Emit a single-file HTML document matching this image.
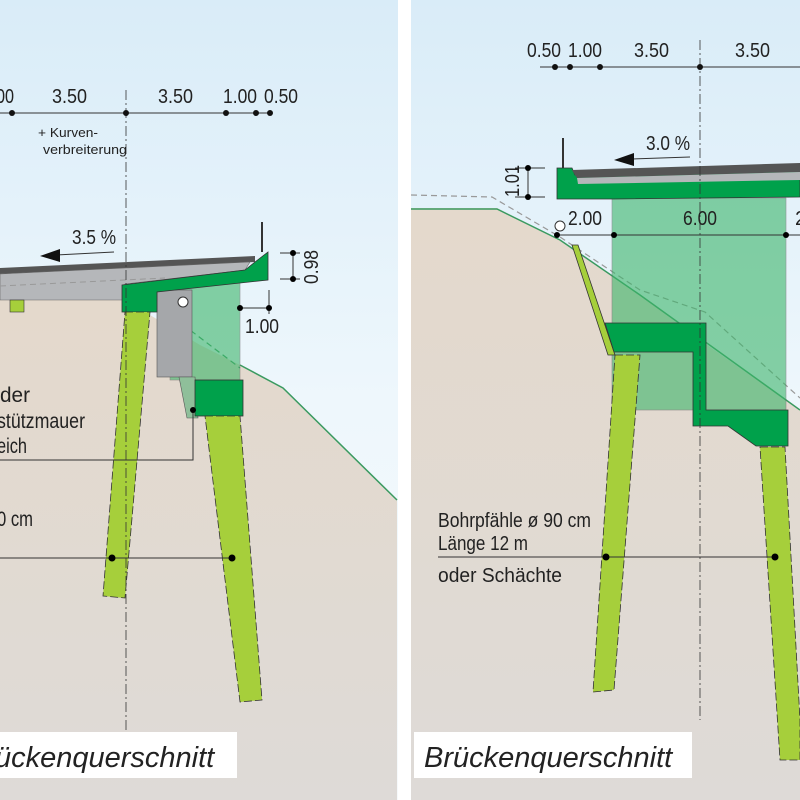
<!DOCTYPE html>
<html><head><meta charset="utf-8"><style>
body{margin:0;width:800px;height:800px;overflow:hidden;background:#fff}
svg{display:block}
text{font-family:"Liberation Sans",sans-serif;fill:#222}
</style></head><body>
<svg width="800" height="800" viewBox="0 0 800 800">
<defs>
<linearGradient id="sky" x1="0" y1="0" x2="0" y2="1"><stop offset="0" stop-color="#d9ecf8"/><stop offset="0.5" stop-color="#eef7fc"/><stop offset="1" stop-color="#f6f9fb"/></linearGradient>
<linearGradient id="gr" x1="0" y1="0" x2="0" y2="1"><stop offset="0" stop-color="#e4d9cc"/><stop offset="1" stop-color="#dedad7"/></linearGradient>
</defs>
<rect x="0" y="0" width="398" height="800" fill="url(#sky)"/>
<rect x="411" y="0" width="389" height="800" fill="url(#sky)"/>
<polygon points="0,300 125,300 200,345 240,365 283,388 397,500 397,800 0,800" fill="url(#gr)"/>
<polyline points="240,365 283,388 397,500" fill="none" stroke="#3a9a60" stroke-width="1.5"/>
<polyline points="165,300 190,330 240,368" fill="none" stroke="#3a9a60" stroke-width="1.2" stroke-dasharray="6,4"/>
<polygon points="0,268 255,256 255,262 0,274" fill="#555"/>
<polygon points="0,274 250,262 245,270 125,284 125,300 0,300" fill="#b5b7ba" stroke="#666" stroke-width="0.6"/>
<line x1="0" y1="286" x2="165" y2="278" stroke="#999" stroke-dasharray="6,4"/>
<rect x="170" y="283" width="70" height="97" fill="#3cb56a" opacity="0.6" stroke="#555" stroke-width="0.6"/>
<rect x="157" y="290" width="35" height="87" fill="#a5a7aa" stroke="#555" stroke-width="0.6"/>
<polygon points="179,377 195,377 198,418 187,418" fill="#8fbf9a" stroke="#555" stroke-width="0.6"/>
<polygon points="122,285 245,270 255,262 268,252 268,280 157,292 157,312 122,312" fill="#00a14b" stroke="#333" stroke-width="0.8"/>
<rect x="195" y="380" width="48" height="36" fill="#00a14b" stroke="#333" stroke-width="0.8"/>
<polygon points="125,312 150,312 125,598 103,596" fill="#a6cf3b" stroke="#333" stroke-width="0.8" stroke-dasharray="8,3"/>
<polygon points="205,416 240,416 262,700 240,702" fill="#a6cf3b" stroke="#333" stroke-width="0.8" stroke-dasharray="8,3"/>
<rect x="10" y="300" width="14" height="12" fill="#a6cf3b" stroke="#333" stroke-width="0.6"/>
<circle cx="183" cy="302" r="5" fill="#fff" stroke="#333"/>
<line x1="262" y1="222" x2="262" y2="252" stroke="#333" stroke-width="2"/>
<line x1="126" y1="90" x2="126" y2="730" stroke="#333" stroke-width="0.8" stroke-dasharray="10,3,2,3"/>
<line x1="114" y1="252" x2="56" y2="255" stroke="#333"/><polygon points="40,256 60,249 60,262" fill="#111"/>
<text x="72" y="244" font-size="20" textLength="44" lengthAdjust="spacingAndGlyphs">3.5 %</text>
<line x1="0" y1="113" x2="270" y2="113" stroke="#333"/>
<g fill="#111"><circle cx="12" cy="113" r="3"/><circle cx="126" cy="113" r="3"/><circle cx="226" cy="113" r="3"/><circle cx="256" cy="113" r="3"/><circle cx="270" cy="113" r="3"/></g>
<g font-size="20"><text x="-4" y="103" textLength="18" lengthAdjust="spacingAndGlyphs">00</text><text x="52" y="103" textLength="35" lengthAdjust="spacingAndGlyphs">3.50</text><text x="158" y="103" textLength="35" lengthAdjust="spacingAndGlyphs">3.50</text><text x="223" y="103" textLength="34" lengthAdjust="spacingAndGlyphs">1.00</text><text x="264" y="103" textLength="34" lengthAdjust="spacingAndGlyphs">0.50</text></g>
<text x="38" y="137" font-size="13" textLength="60" lengthAdjust="spacingAndGlyphs">+ Kurven-</text><text x="43" y="154" font-size="13" textLength="84" lengthAdjust="spacingAndGlyphs">verbreiterung</text>
<line x1="280" y1="253" x2="300" y2="253" stroke="#333"/><line x1="280" y1="279" x2="300" y2="279" stroke="#333"/><line x1="293" y1="253" x2="293" y2="279" stroke="#333"/>
<circle cx="293" cy="253" r="3"/><circle cx="293" cy="279" r="3"/>
<text font-size="20" transform="translate(318,284) rotate(-90)" textLength="34" lengthAdjust="spacingAndGlyphs">0.98</text>
<line x1="240" y1="308" x2="269" y2="308" stroke="#333"/><line x1="269" y1="290" x2="269" y2="314" stroke="#333"/>
<circle cx="240" cy="308" r="3"/><circle cx="269" cy="308" r="3"/>
<text x="245" y="333" font-size="20" textLength="34" lengthAdjust="spacingAndGlyphs">1.00</text>
<g font-size="21"><text x="0" y="402" textLength="30" lengthAdjust="spacingAndGlyphs">der</text><text x="-3" y="428" textLength="88" lengthAdjust="spacingAndGlyphs">stützmauer</text><text x="-3" y="453" textLength="30" lengthAdjust="spacingAndGlyphs">eich</text><text x="-3" y="526" textLength="36" lengthAdjust="spacingAndGlyphs">0 cm</text></g>
<polyline points="0,460 193,460 193,410" fill="none" stroke="#333"/><circle cx="193" cy="410" r="3"/>
<line x1="0" y1="558" x2="232" y2="558" stroke="#333"/><circle cx="112" cy="558" r="3.5"/><circle cx="232" cy="558" r="3.5"/>
<rect x="0" y="732" width="237" height="46" fill="#fff"/>
<text x="-5" y="767" font-size="29" font-style="italic">ückenquerschnitt</text>
<polygon points="411,208 497,208 560,240 640,295 700,340 800,410 800,800 411,800" fill="url(#gr)"/>
<polyline points="411,209 497,209 560,240 640,295 800,410" fill="none" stroke="#3a9a60" stroke-width="1.5"/>
<polyline points="411,195 492,197 560,237 640,290 705,312 800,398" fill="none" stroke="#999" stroke-width="1.2" stroke-dasharray="6,4"/>
<rect x="612" y="198" width="174" height="212" fill="#3cb56a" opacity="0.6" stroke="#555" stroke-width="0.6"/>
<polygon points="572,245 578,245 615,355 608,355" fill="#a6cf3b" stroke="#333" stroke-width="0.8"/>
<polygon points="605,323 706,323 706,410 788,410 788,446 756,446 728,426 693,426 693,352 614,352" fill="#00a14b" stroke="#333" stroke-width="0.8"/>
<polygon points="615,355 640,355 614,690 593,692" fill="#a6cf3b" stroke="#333" stroke-width="0.8" stroke-dasharray="8,3"/>
<polygon points="760,447 785,447 800,720 800,760 780,760" fill="#a6cf3b" stroke="#333" stroke-width="0.8" stroke-dasharray="8,3"/>
<polygon points="557,168 572,168 575,175 800,170 800,197 614,199 557,199" fill="#00a14b" stroke="#333" stroke-width="0.8"/>
<polygon points="572,170 800,163 800,172 577,178" fill="#555"/>
<polygon points="577,178 800,172 800,180 578,184" fill="#b5b7ba"/>
<line x1="563" y1="138" x2="563" y2="168" stroke="#333" stroke-width="2"/>
<circle cx="560" cy="226" r="5" fill="#fff" stroke="#333"/>
<line x1="700" y1="40" x2="700" y2="720" stroke="#333" stroke-width="0.8" stroke-dasharray="10,3,2,3"/>
<line x1="690" y1="157" x2="632" y2="159" stroke="#333"/><polygon points="614,160 634,153 634,166" fill="#111"/>
<text x="646" y="150" font-size="20" textLength="44" lengthAdjust="spacingAndGlyphs">3.0 %</text>
<line x1="540" y1="67" x2="800" y2="67" stroke="#333"/>
<g fill="#111"><circle cx="555" cy="67" r="3"/><circle cx="570" cy="67" r="3"/><circle cx="600" cy="67" r="3"/><circle cx="700" cy="67" r="3"/></g>
<g font-size="20"><text x="527" y="57" textLength="34" lengthAdjust="spacingAndGlyphs">0.50</text><text x="568" y="57" textLength="34" lengthAdjust="spacingAndGlyphs">1.00</text><text x="634" y="57" textLength="35" lengthAdjust="spacingAndGlyphs">3.50</text><text x="735" y="57" textLength="35" lengthAdjust="spacingAndGlyphs">3.50</text></g>
<line x1="515" y1="168" x2="545" y2="168" stroke="#333"/><line x1="515" y1="197" x2="545" y2="197" stroke="#333"/><line x1="528" y1="168" x2="528" y2="197" stroke="#333"/>
<circle cx="528" cy="168" r="3"/><circle cx="528" cy="197" r="3"/>
<text font-size="20" transform="translate(519,197) rotate(-90)" textLength="32" lengthAdjust="spacingAndGlyphs">1.01</text>
<line x1="557" y1="235" x2="800" y2="235" stroke="#333"/>
<circle cx="557" cy="235" r="3"/><circle cx="614" cy="235" r="3"/><circle cx="786" cy="235" r="3"/>
<g font-size="20"><text x="568" y="225" textLength="34" lengthAdjust="spacingAndGlyphs">2.00</text><text x="683" y="225" textLength="34" lengthAdjust="spacingAndGlyphs">6.00</text><text x="795" y="225">2</text></g>
<g font-size="20"><text x="438" y="527" textLength="153" lengthAdjust="spacingAndGlyphs">Bohrpfähle ø 90 cm</text><text x="438" y="550" textLength="90" lengthAdjust="spacingAndGlyphs">Länge 12 m</text><text x="438" y="582" textLength="124" lengthAdjust="spacingAndGlyphs">oder Schächte</text></g>
<line x1="438" y1="557" x2="775" y2="557" stroke="#333"/><circle cx="606" cy="557" r="3.5"/><circle cx="775" cy="557" r="3.5"/>
<rect x="414" y="732" width="278" height="46" fill="#fff"/>
<text x="424" y="767" font-size="29" font-style="italic">Brückenquerschnitt</text>
</svg>
</body></html>
